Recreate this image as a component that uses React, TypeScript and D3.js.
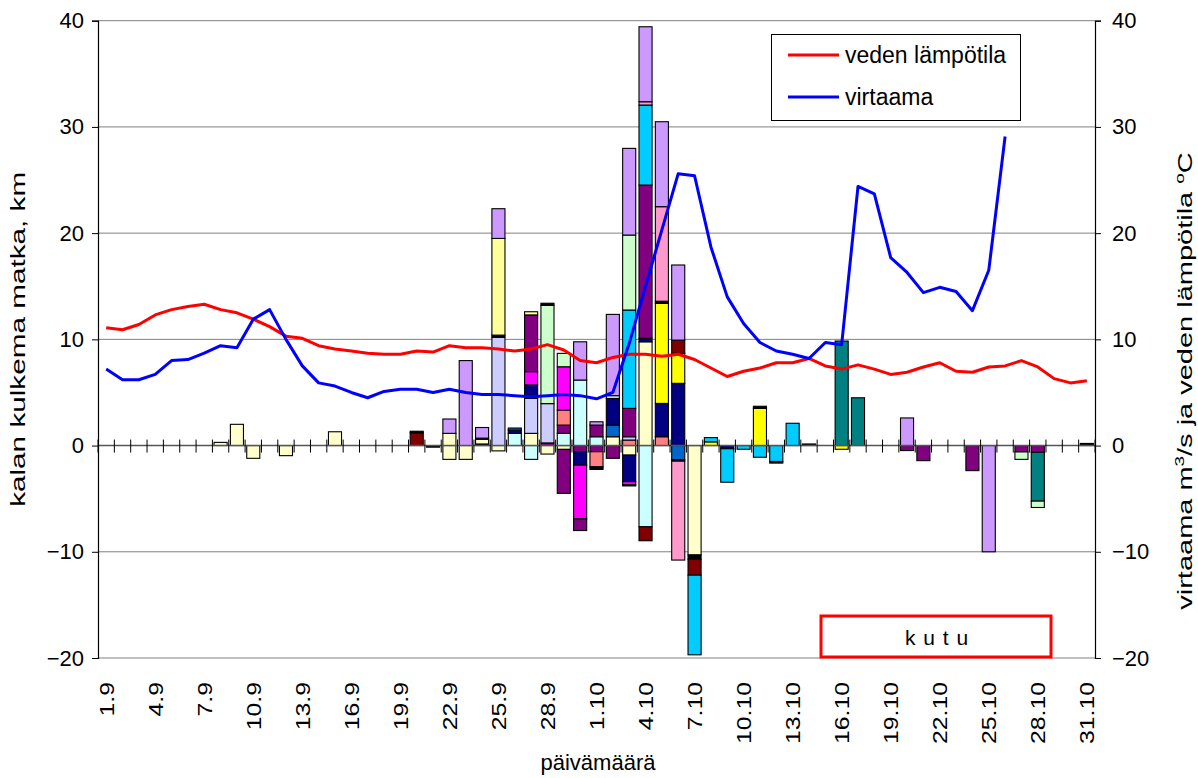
import React, { useRef, useEffect } from "react";
import * as d3 from "d3";

// päivät 1.9 - 31.10
const days = [
  "1.9", "2.9", "3.9", "4.9", "5.9", "6.9", "7.9", "8.9", "9.9", "10.9",
  "11.9", "12.9", "13.9", "14.9", "15.9", "16.9", "17.9", "18.9", "19.9", "20.9",
  "21.9", "22.9", "23.9", "24.9", "25.9", "26.9", "27.9", "28.9", "29.9", "30.9",
  "1.10", "2.10", "3.10", "4.10", "5.10", "6.10", "7.10", "8.10", "9.10", "10.10",
  "11.10", "12.10", "13.10", "14.10", "15.10", "16.10", "17.10", "18.10", "19.10", "20.10",
  "21.10", "22.10", "23.10", "24.10", "25.10", "26.10", "27.10", "28.10", "29.10", "30.10",
  "31.10",
];

const tickLabels = [
  "1.9", "4.9", "7.9", "10.9", "13.9", "16.9", "19.9", "22.9", "25.9", "28.9", "1.10",
  "4.10", "7.10", "10.10", "13.10", "16.10", "19.10", "22.10", "25.10", "28.10", "31.10",
];

const yTicks = [-20, -10, 0, 10, 20, 30, 40];

// veden lämpötila, °C
const temperature = [
  11.1, 10.9, 11.4, 12.3, 12.8, 13.1, 13.3, 12.8, 12.5, 11.9,
  11.2, 10.3, 10.1, 9.4, 9.1, 8.9, 8.7, 8.6, 8.6, 8.9,
  8.8, 9.4, 9.2, 9.2, 9.1, 8.9, 9.1, 9.5, 9.0, 8.0,
  7.8, 8.3, 8.6, 8.6, 8.4, 8.6, 8.1, 7.3, 6.5, 7.0,
  7.3, 7.8, 7.8, 8.2, 7.5, 7.2, 7.6, 7.2, 6.7, 6.9,
  7.4, 7.8, 7.0, 6.9, 7.4, 7.5, 8.0, 7.4, 6.3, 5.9,
  6.1,
];

// virtaama, m3/s (1.9 - 26.10)
const flow = [
  7.2, 6.2, 6.2, 6.7, 8.0, 8.1, 8.7, 9.4, 9.2, 11.9,
  12.8, 10.0, 7.5, 5.9, 5.6, 5.0, 4.5, 5.1, 5.3, 5.3,
  5.0, 5.3, 5.0, 4.8, 4.8, 4.7, 4.6, 4.7, 4.8, 4.7,
  4.4, 5.0, 9.6, 15.0, 20.3, 25.6, 25.4, 18.7, 14.0, 11.5,
  9.7, 8.9, 8.6, 8.2, 9.7, 9.5, 24.4, 23.7, 17.7, 16.3,
  14.4, 14.9, 14.5, 12.7, 16.5, 29.1,
];

// kalan kulkema matka päivässä: [päivä, kala, km]
const moves: [string, string, number][] = [
  ["8.9", "LY", 0.3],
  ["9.9", "LY", 2.0],
  ["10.9", "LY", -1.2],
  ["12.9", "LY", -0.95],
  ["15.9", "LY", 1.3],
  ["20.9", "DR", 1.2], ["20.9", "BK", 0.15],
  ["21.9", "BK", -0.15],
  ["22.9", "LY", 1.15], ["22.9", "LV", 1.35], ["22.9", "LY", -1.3],
  ["23.9", "LV", 8.0], ["23.9", "LY", -1.3],
  ["24.9", "BK", 0.15], ["24.9", "LY", 0.45], ["24.9", "BK", 0.1], ["24.9", "LV", 1.0],
  ["25.9", "PW", 10.2], ["25.9", "BK", 0.2], ["25.9", "KH", 9.1], ["25.9", "LV", 2.8], ["25.9", "LY", -0.5],
  ["26.9", "LC", 1.15], ["26.9", "NV", 0.3], ["26.9", "BL", 0.2],
  ["27.9", "LY", 1.15], ["27.9", "PW", 3.3], ["27.9", "NV", 1.26], ["27.9", "MG", 1.25],
  ["27.9", "PU", 5.34], ["27.9", "KH", 0.3], ["27.9", "LC", -1.3],
  ["28.9", "PU", 0.25], ["28.9", "PW", 3.7], ["28.9", "LG", 9.25], ["28.9", "BK", 0.2], ["28.9", "LY", -0.8],
  ["29.9", "LC", 1.15], ["29.9", "PU", 0.78], ["29.9", "SA", 1.41], ["29.9", "MG", 4.08], ["29.9", "LG", 1.26],
  ["29.9", "LY", -0.36], ["29.9", "PU", -4.14],
  ["30.9", "LC", 6.17], ["30.9", "LV", 3.6],
  ["30.9", "PU", -0.58], ["30.9", "NV", -1.26], ["30.9", "MG", -5.06], ["30.9", "PU", -1.1],
  ["1.10", "LC", 0.83], ["1.10", "PU", 1.1], ["1.10", "LV", 0.31],
  ["1.10", "PU", -0.58], ["1.10", "SA", -1.42], ["1.10", "BK", -0.25],
  ["2.10", "LY", 0.83], ["2.10", "BL", 1.1], ["2.10", "NV", 2.51], ["2.10", "LC", 0.26], ["2.10", "LV", 7.65],
  ["2.10", "PU", -1.2],
  ["3.10", "SA", 0.52], ["3.10", "PW", 0.31], ["3.10", "PU", 2.67], ["3.10", "SK", 9.26],
  ["3.10", "LG", 7.06], ["3.10", "LV", 8.16],
  ["3.10", "LY", -0.9], ["3.10", "NV", -2.5], ["3.10", "MG", -0.3], ["3.10", "BK", -0.1],
  ["4.10", "LY", 9.77], ["4.10", "NV", 0.33], ["4.10", "PU", 14.43], ["4.10", "SK", 7.53],
  ["4.10", "PK", 0.31], ["4.10", "LV", 7.06],
  ["4.10", "LC", -7.65], ["4.10", "DR", -1.31],
  ["5.10", "SA", 0.83], ["5.10", "NV", 3.14], ["5.10", "YE", 9.42], ["5.10", "BK", 0.2],
  ["5.10", "PK", 8.9], ["5.10", "LV", 8.0],
  ["6.10", "NV", 5.86], ["6.10", "YE", 2.82], ["6.10", "DR", 1.25], ["6.10", "LV", 7.07],
  ["6.10", "BL", -1.32], ["6.10", "BK", -0.15], ["6.10", "PK", -9.31],
  ["7.10", "LY", -10.3], ["7.10", "BK", -0.4], ["7.10", "DR", -1.5], ["7.10", "SK", -7.5],
  ["8.10", "YE", 0.35], ["8.10", "SK", 0.4],
  ["9.10", "NV", -0.3], ["9.10", "SK", -3.15],
  ["10.10", "SK", -0.35],
  ["11.10", "YE", 3.5], ["11.10", "BK", 0.2], ["11.10", "SK", -1.1],
  ["12.10", "SK", -1.5], ["12.10", "BK", -0.15],
  ["13.10", "SK", 2.1],
  ["14.10", "BK", 0.15],
  ["16.10", "TE", 9.84], ["16.10", "YE", -0.35],
  ["17.10", "TE", 4.5],
  ["20.10", "LV", 2.6], ["20.10", "PU", -0.47],
  ["21.10", "PU", -1.42],
  ["24.10", "PU", -2.36],
  ["25.10", "LV", -10.0],
  ["27.10", "PU", -0.6], ["27.10", "LG", -0.7],
  ["28.10", "PU", -0.63], ["28.10", "TE", -4.6], ["28.10", "LG", -0.6],
  ["31.10", "BK", 0.2],
];

const fishColor: Record<string, string> = {
  LY: "#FFFFCC", KH: "#FFFF99", PW: "#CCCCFF", LC: "#CCFFFF", NV: "#000080",
  BL: "#0066CC", YE: "#FFFF00", MG: "#FF00FF", PU: "#800080", DR: "#800000",
  SK: "#00CCFF", PK: "#FF99CC", LG: "#CCFFCC", LV: "#CC99FF", TE: "#008080",
  SA: "#FF8080", BK: "#000000",
};

const FONT = "Arial, 'Liberation Sans', sans-serif";

export default function App() {
  const ref = useRef<SVGSVGElement | null>(null);

  useEffect(() => {
    const svg = d3.select(ref.current);
    svg.selectAll("*").remove();

    const left = 98, right = 1095, top = 20.7, bottom = 658;

    const x = d3.scaleBand<string>()
      .domain(days)
      .range([left, right])
      .paddingInner(0.2)
      .paddingOuter(0.1);
    const step = x.step();
    const cx = (d: string) => (x(d) as number) + x.bandwidth() / 2;

    const y = d3.scaleLinear().domain([-20, 40]).range([bottom, top]);

    // grid
    svg.append("g")
      .selectAll("line")
      .data(yTicks.filter((t) => t !== 0))
      .enter()
      .append("line")
      .attr("x1", left).attr("x2", right)
      .attr("y1", (d) => y(d)).attr("y2", (d) => y(d))
      .attr("stroke", "#808080").attr("stroke-width", 1);

    // stacked bars, positives up and negatives down
    const posTop = new Map<string, number>();
    const negBot = new Map<string, number>();
    const rects = moves.map(([day, fish, v]) => {
      const store = v >= 0 ? posTop : negBot;
      const base = store.get(day) ?? 0;
      store.set(day, base + v);
      return { day, fish, y0: base, y1: base + v };
    });

    svg.append("g")
      .selectAll("rect")
      .data(rects)
      .enter()
      .append("rect")
      .attr("x", (d) => x(d.day) as number)
      .attr("width", x.bandwidth())
      .attr("y", (d) => y(Math.max(d.y0, d.y1)))
      .attr("height", (d) => Math.abs(y(d.y0) - y(d.y1)))
      .attr("fill", (d) => fishColor[d.fish])
      .attr("stroke", "#000")
      .attr("stroke-width", 1.1);

    // x axis through zero with crossing ticks
    const y0 = y(0);
    const gx = svg.append("g");
    gx.append("line")
      .attr("x1", left).attr("x2", right)
      .attr("y1", y0).attr("y2", y0)
      .attr("stroke", "#555").attr("stroke-width", 1.5);
    gx.selectAll("line.tick")
      .data(d3.range(days.length + 1))
      .enter()
      .append("line")
      .attr("class", "tick")
      .attr("x1", (i) => left + i * step).attr("x2", (i) => left + i * step)
      .attr("y1", y0 - 6).attr("y2", y0 + 7)
      .attr("stroke", "#000").attr("stroke-width", 1);

    // lines on the right axis
    const line = d3.line<number>()
      .x((_d, i) => cx(days[i]))
      .y((d) => y(d));

    svg.append("path")
      .datum(temperature)
      .attr("d", line)
      .attr("fill", "none")
      .attr("stroke", "#FF0000")
      .attr("stroke-width", 3)
      .attr("stroke-linejoin", "round");

    svg.append("path")
      .datum(flow)
      .attr("d", line)
      .attr("fill", "none")
      .attr("stroke", "#0000FF")
      .attr("stroke-width", 3)
      .attr("stroke-linejoin", "round");

    // left axis
    const gl = svg.append("g")
      .attr("transform", `translate(${left},0)`)
      .call(d3.axisLeft(y).tickValues(yTicks).tickSize(6).tickPadding(8).tickFormat(d3.format("d")));
    gl.select(".domain").attr("stroke", "#000").attr("stroke-width", 1.2);
    gl.selectAll(".tick line").attr("stroke", "#000");
    gl.selectAll("text").attr("font-family", FONT).attr("font-size", 22).attr("fill", "#000");

    // right axis
    const gr = svg.append("g")
      .attr("transform", `translate(${right},0)`)
      .call(d3.axisRight(y).tickValues(yTicks).tickSize(6).tickPadding(11).tickFormat(d3.format("d")));
    gr.select(".domain").attr("stroke", "#000").attr("stroke-width", 1.2);
    gr.selectAll(".tick line").attr("stroke", "#000");
    gr.selectAll("text").attr("font-family", FONT).attr("font-size", 22).attr("fill", "#000");

    // date labels
    svg.append("g")
      .selectAll("text")
      .data(tickLabels)
      .enter()
      .append("text")
      .attr("transform", (d) => `translate(${cx(d)},682) rotate(-90) scale(1.18,1)`)
      .attr("text-anchor", "end")
      .attr("dy", "0.36em")
      .attr("font-family", FONT)
      .attr("font-size", 21)
      .text((d) => d);

    // axis titles
    svg.append("text")
      .attr("transform", `translate(25,${(top + bottom) / 2}) rotate(-90)`)
      .attr("text-anchor", "middle")
      .attr("font-family", FONT)
      .attr("font-size", 20)
      .attr("textLength", 335)
      .attr("lengthAdjust", "spacingAndGlyphs")
      .text("kalan kulkema matka, km");

    const rt = svg.append("text")
      .attr("transform", `translate(1192,381) rotate(-90) scale(1.45,1)`)
      .attr("text-anchor", "middle")
      .attr("font-family", FONT)
      .attr("font-size", 20);
    rt.append("tspan").text("virtaama m");
    rt.append("tspan").attr("font-size", 13).attr("dy", -8).text("3");
    rt.append("tspan").attr("dy", 8).text("/s ja veden lämpötila ");
    rt.append("tspan").attr("font-size", 13).attr("dy", -8).text("o");
    rt.append("tspan").attr("dy", 8).text("C");

    svg.append("text")
      .attr("x", 598).attr("y", 770)
      .attr("text-anchor", "middle")
      .attr("font-family", FONT)
      .attr("font-size", 22)
      .text("päivämäärä");

    // legend
    const lg = svg.append("g");
    lg.append("rect")
      .attr("x", 771.5).attr("y", 34.5).attr("width", 249).attr("height", 86)
      .attr("fill", "#fff").attr("stroke", "#000").attr("stroke-width", 1);
    const items = [
      { label: "veden lämpötila", color: "#FF0000", yy: 55 },
      { label: "virtaama", color: "#0000FF", yy: 97 },
    ];
    items.forEach((it) => {
      lg.append("line")
        .attr("x1", 788).attr("x2", 839)
        .attr("y1", it.yy).attr("y2", it.yy)
        .attr("stroke", it.color).attr("stroke-width", 3);
      lg.append("text")
        .attr("x", 845).attr("y", it.yy)
        .attr("dy", "0.36em")
        .attr("font-family", FONT)
        .attr("font-size", 23)
        .text(it.label);
    });

    // spawning period box
    svg.append("rect")
      .attr("x", 821).attr("y", 616).attr("width", 230).attr("height", 41)
      .attr("fill", "#fff").attr("stroke", "#FF0000").attr("stroke-width", 3);
    svg.append("text")
      .attr("x", 937).attr("y", 645)
      .attr("text-anchor", "middle")
      .attr("font-family", FONT)
      .attr("font-size", 21)
      .attr("letter-spacing", 1)
      .text("k u t u");
  }, []);

  return (
    <svg
      ref={ref}
      width={1198}
      height={778}
      style={{ position: "absolute", left: 0, top: 0, background: "#fff" }}
    />
  );
}
